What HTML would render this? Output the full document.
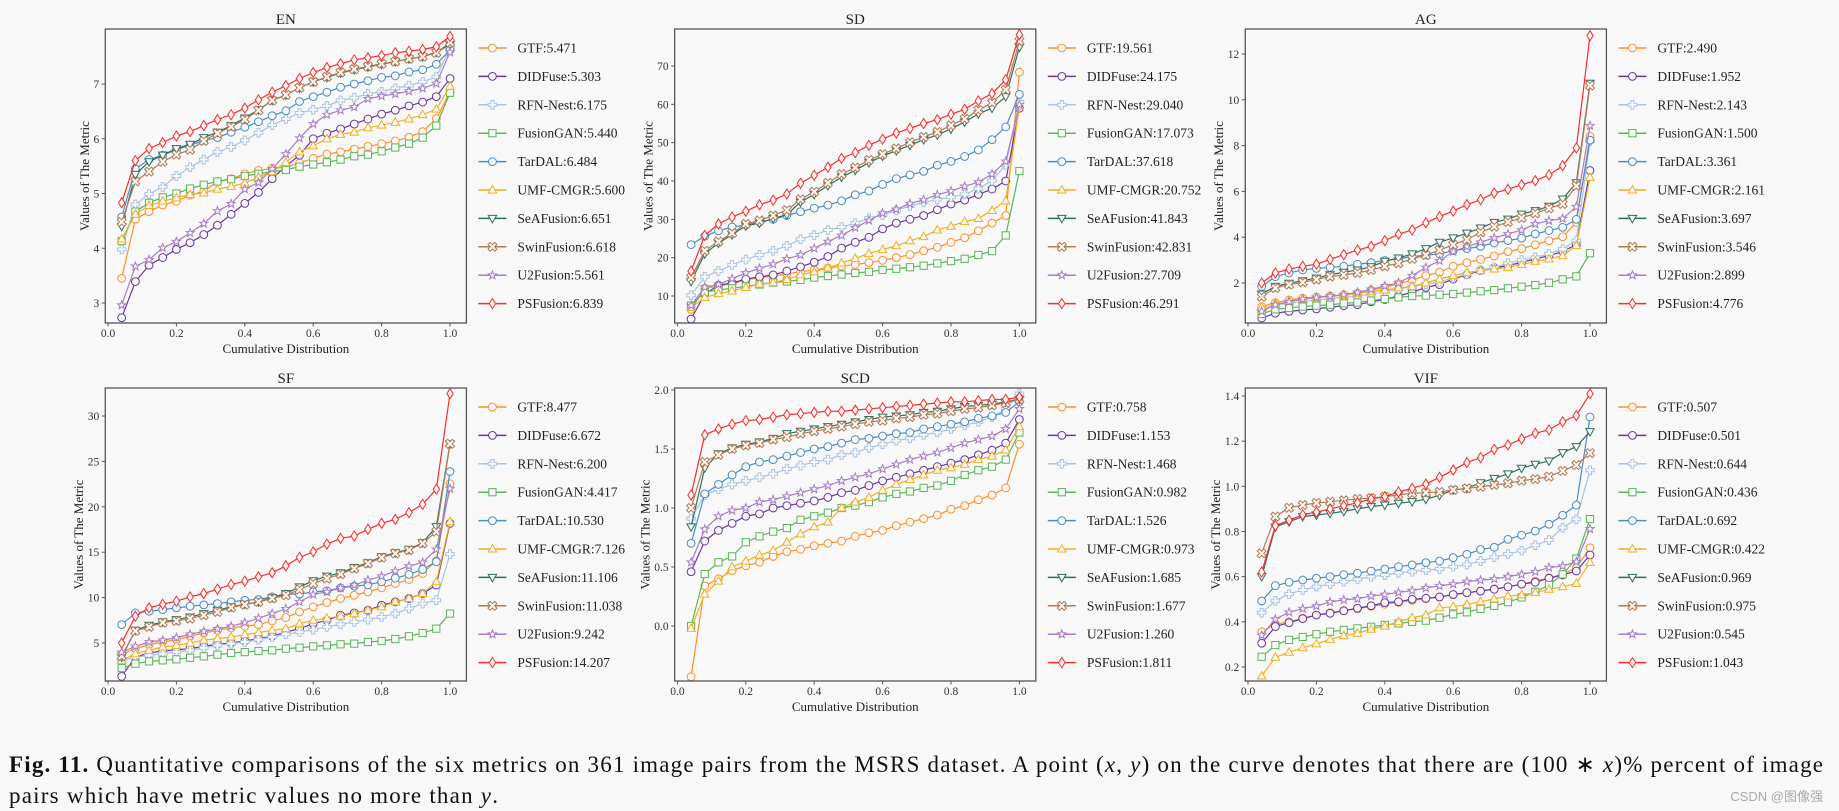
<!DOCTYPE html>
<html><head><meta charset="utf-8"><style>
html,body{margin:0;padding:0;background:#f8f8f8;}
svg{display:block;font-family:"Liberation Serif","Noto Serif CJK SC",serif;}
</style></head><body>
<svg id="fig" xmlns="http://www.w3.org/2000/svg" width="1839" height="811" viewBox="0 0 1839 811">
<rect x="0" y="0" width="1839" height="811" fill="#f8f8f8"/>
<g id="plots"></g>
<text x="9" y="772" font-size="23" fill="#111" textLength="1814" lengthAdjust="spacing"><tspan font-weight="bold">Fig. 11.</tspan> Quantitative comparisons of the six metrics on 361 image pairs from the MSRS dataset. A point (<tspan font-style="italic">x</tspan>, <tspan font-style="italic">y</tspan>) on the curve denotes that there are (100 ∗ <tspan font-style="italic">x</tspan>)% percent of image</text>
<text x="9" y="803" font-size="23" fill="#111" textLength="489" lengthAdjust="spacing">pairs which have metric values no more than <tspan font-style="italic">y</tspan>.</text>
<text x="1823" y="801" font-size="13" fill="#aaa" text-anchor="end" font-family="Liberation Sans, Noto Sans CJK SC, sans-serif">CSDN @图像强</text>
</svg>
<script>
const xValues = [0.04,0.08,0.12,0.16,0.2,0.24,0.28,0.32,0.36,0.4,0.44,0.48,0.52,0.56,0.6,0.64,0.68,0.72,0.76,0.8,0.84,0.88,0.92,0.96,1.0];
const methods = ["GTF","DIDFuse","RFN-Nest","FusionGAN","TarDAL","UMF-CMGR","SeAFusion","SwinFusion","U2Fusion","PSFusion"];
const metrics = ["EN","SD","AG","SF","SCD","VIF"];
const xTicks = [0.0,0.2,0.4,0.6,0.8,1.0];
const xTickLabels = ["0.0","0.2","0.4","0.6","0.8","1.0"];

const enLegend = ["5.471","5.303","6.175","5.440","6.484","5.600","6.651","6.618","5.561","6.839"];
const sdLegend = ["19.561","24.175","29.040","17.073","37.618","20.752","41.843","42.831","27.709","46.291"];
const agLegend = ["2.490","1.952","2.143","1.500","3.361","2.161","3.697","3.546","2.899","4.776"];
const sfLegend = ["8.477","6.672","6.200","4.417","10.530","7.126","11.106","11.038","9.242","14.207"];
const scdLegend = ["0.758","1.153","1.468","0.982","1.526","0.973","1.685","1.677","1.260","1.811"];
const vifLegend = ["0.507","0.501","0.644","0.436","0.692","0.422","0.969","0.975","0.545","1.043"];

const enTicks = [3,4,5,6,7];
const sdTicks = [10,20,30,40,50,60,70];
const agTicks = [2,4,6,8,10,12];
const sfTicks = [5,10,15,20,25,30];
const scdTicks = [0,0.5,1.0,1.5,2.0];
const vifTicks = [0.2,0.4,0.6,0.8,1.0,1.2,1.4];

const enValues = [
[3.45,4.53,4.67,4.79,4.86,4.97,5.04,5.22,5.27,5.36,5.42,5.46,5.48,5.56,5.64,5.72,5.76,5.81,5.86,5.91,5.96,6.03,6.13,6.37,6.85],
[2.73,3.39,3.69,3.83,3.98,4.10,4.25,4.42,4.62,4.82,5.02,5.27,5.50,5.70,6.00,6.10,6.18,6.27,6.36,6.45,6.52,6.60,6.67,6.77,7.10],
[3.98,4.80,4.99,5.12,5.32,5.48,5.62,5.76,5.85,5.97,6.11,6.25,6.36,6.47,6.53,6.60,6.70,6.75,6.82,6.86,6.92,6.97,7.04,7.13,7.66],
[4.13,4.67,4.83,4.93,5.00,5.09,5.16,5.22,5.26,5.32,5.36,5.40,5.43,5.49,5.53,5.57,5.62,5.68,5.71,5.77,5.84,5.91,6.02,6.24,6.84],
[4.57,5.45,5.62,5.70,5.80,5.88,5.97,6.02,6.12,6.21,6.31,6.42,6.51,6.68,6.77,6.85,6.94,7.00,7.06,7.12,7.15,7.22,7.26,7.36,7.62],
[4.17,4.62,4.78,4.86,4.92,4.98,5.01,5.08,5.13,5.19,5.30,5.40,5.57,5.76,5.87,6.00,6.08,6.12,6.20,6.25,6.30,6.36,6.44,6.54,6.96],
[4.40,5.35,5.58,5.70,5.82,5.90,6.02,6.12,6.24,6.38,6.53,6.70,6.80,6.93,7.04,7.12,7.20,7.26,7.31,7.36,7.41,7.46,7.50,7.58,7.72],
[4.48,5.22,5.40,5.58,5.71,5.80,5.96,6.10,6.22,6.35,6.52,6.70,6.80,6.93,7.04,7.13,7.21,7.27,7.32,7.37,7.41,7.46,7.50,7.57,7.76],
[2.96,3.67,3.79,4.01,4.12,4.28,4.45,4.68,4.81,5.08,5.20,5.45,5.72,6.01,6.27,6.44,6.52,6.58,6.73,6.78,6.82,6.87,6.92,7.01,7.58],
[4.83,5.60,5.82,5.93,6.05,6.13,6.24,6.35,6.44,6.56,6.71,6.85,6.97,7.10,7.21,7.30,7.37,7.44,7.48,7.52,7.57,7.60,7.63,7.68,7.87]];

const sdValues = [
[6.5,12.0,12.6,13.2,14.2,14.8,15.2,15.8,16.3,16.8,17.3,17.8,18.2,18.7,19.3,20.0,20.8,21.8,22.7,24.0,25.2,27.0,29.0,31.0,68.4],
[4.0,10.5,12.8,13.4,14.4,15.0,15.5,16.5,17.6,18.8,20.3,22.5,24.0,25.3,27.5,29.0,30.0,31.0,32.5,34.0,35.0,36.5,37.9,40.0,59.0],
[10.2,15.0,16.5,18.1,19.5,20.7,21.8,23.1,24.8,25.9,27.2,28.0,29.0,30.3,31.1,32.3,33.5,34.4,35.2,35.8,36.5,38.0,40.1,44.2,60.6],
[7.5,11.0,11.6,12.0,12.5,13.0,13.5,13.8,14.2,14.8,15.2,15.6,16.0,16.3,16.8,17.1,17.5,17.9,18.5,19.1,19.7,20.7,21.7,25.8,42.6],
[23.4,25.6,27.0,28.0,28.5,29.3,30.0,31.0,32.0,32.9,33.7,34.8,36.4,37.4,39.1,40.6,41.6,42.5,44.1,45.1,46.4,48.1,50.8,54.1,62.6],
[7.0,9.6,10.6,11.3,12.2,13.1,13.5,14.3,15.5,16.3,17.3,18.6,19.8,21.1,22.1,23.1,24.4,25.5,27.2,28.2,29.4,30.2,32.3,34.8,59.5],
[13.8,21.0,23.8,26.0,28.3,29.0,30.2,31.2,34.5,36.5,38.8,41.0,42.8,44.8,46.5,47.9,49.3,50.8,52.0,53.6,55.4,57.5,59.0,62.0,74.9],
[14.8,21.8,24.2,26.4,28.8,29.7,31.0,32.4,35.2,37.2,39.5,41.8,43.5,45.5,47.0,48.5,50.1,51.5,52.8,54.5,56.2,58.5,60.4,63.8,76.5],
[7.5,12.3,13.0,14.5,16.0,17.2,18.3,19.7,20.7,22.4,24.2,25.8,27.8,29.7,31.6,32.6,34.1,35.1,36.4,37.4,38.6,39.7,41.8,45.1,59.9],
[16.5,25.8,28.8,30.6,32.1,33.8,35.0,36.6,39.4,41.5,43.6,45.9,47.4,49.3,50.9,52.5,53.7,55.0,56.0,57.4,58.7,60.9,62.8,66.4,78.2]];

const agValues = [
[0.97,1.14,1.26,1.34,1.39,1.43,1.49,1.55,1.69,1.81,1.96,2.13,2.32,2.47,2.73,2.89,3.03,3.18,3.37,3.50,3.67,3.85,4.02,4.65,8.40],
[0.47,0.68,0.76,0.82,0.87,0.94,1.01,1.05,1.18,1.28,1.44,1.59,1.81,1.93,2.17,2.36,2.54,2.66,2.76,2.90,3.05,3.19,3.38,3.67,6.91],
[0.85,1.05,1.11,1.20,1.25,1.33,1.37,1.43,1.51,1.63,1.73,1.85,1.95,2.05,2.22,2.39,2.57,2.68,2.86,3.00,3.12,3.27,3.48,3.85,8.20],
[0.65,0.85,0.91,0.97,1.01,1.05,1.11,1.15,1.23,1.30,1.37,1.43,1.45,1.49,1.52,1.58,1.64,1.69,1.77,1.84,1.91,2.01,2.16,2.29,3.30],
[1.85,2.28,2.44,2.57,2.64,2.68,2.73,2.82,2.89,2.98,3.06,3.15,3.22,3.27,3.41,3.50,3.60,3.75,3.85,3.96,4.14,4.29,4.43,4.78,8.24],
[0.94,1.13,1.23,1.30,1.36,1.42,1.46,1.55,1.64,1.69,1.78,1.85,2.00,2.17,2.32,2.45,2.54,2.61,2.68,2.80,2.95,3.05,3.19,3.63,6.61],
[1.52,1.85,1.99,2.10,2.22,2.36,2.47,2.57,2.71,2.95,3.09,3.27,3.50,3.78,3.97,4.18,4.40,4.65,4.79,5.01,5.16,5.35,5.67,6.38,10.72],
[1.40,1.78,1.93,2.03,2.15,2.28,2.35,2.44,2.57,2.73,2.86,3.05,3.22,3.44,3.67,3.89,4.21,4.46,4.66,4.84,5.04,5.26,5.45,6.24,10.62],
[0.76,1.05,1.18,1.30,1.37,1.43,1.49,1.59,1.72,1.87,2.01,2.32,2.68,2.97,3.37,3.59,3.78,3.97,4.14,4.31,4.58,4.72,4.81,5.33,8.87],
[2.00,2.44,2.61,2.73,2.82,3.03,3.24,3.44,3.60,3.85,4.13,4.32,4.63,4.90,5.14,5.42,5.64,5.93,6.09,6.29,6.47,6.72,7.12,7.90,12.80]];

const sfValues = [
[3.75,4.38,4.82,5.11,5.37,5.74,6.10,6.40,6.66,6.84,7.02,7.43,7.80,8.42,8.98,9.46,9.90,10.26,10.63,11.07,11.55,11.99,12.66,14.06,22.53],
[1.32,3.45,3.90,4.12,4.26,4.38,4.63,4.86,5.00,5.22,5.48,5.74,6.21,6.58,7.14,7.50,8.06,8.31,8.61,9.16,9.53,9.90,10.45,11.37,18.18],
[3.09,3.45,3.64,3.82,4.00,4.19,4.48,4.74,4.93,5.11,5.37,5.66,5.96,6.21,6.47,6.77,7.06,7.32,7.58,7.87,8.24,8.79,9.34,9.71,14.79],
[2.24,2.72,2.98,3.09,3.20,3.38,3.53,3.71,3.90,4.00,4.12,4.19,4.38,4.48,4.63,4.74,4.86,4.93,5.11,5.22,5.44,5.74,6.10,6.58,8.24],
[7.02,8.31,8.50,8.68,8.87,9.05,9.20,9.34,9.53,9.71,9.79,10.08,10.38,10.38,10.63,10.74,11.07,11.26,11.41,11.74,12.14,12.55,13.10,13.95,23.89],
[3.09,3.82,4.19,4.56,4.74,5.00,5.30,5.48,5.66,5.92,6.14,6.40,6.58,7.14,7.50,7.73,7.95,8.24,8.61,8.98,9.53,9.90,10.45,11.74,18.37],
[3.45,6.40,6.95,7.32,7.58,7.87,8.24,8.61,8.98,9.27,9.53,10.00,10.45,11.18,11.85,12.36,12.73,13.32,13.84,14.50,14.94,15.31,16.05,17.81,26.94],
[3.56,6.33,6.77,7.25,7.43,7.69,8.06,8.42,8.90,9.23,9.53,9.90,10.26,10.89,11.55,12.10,12.58,13.20,13.76,14.39,14.87,15.24,15.97,17.26,26.94],
[3.97,4.63,5.11,5.30,5.59,5.96,6.29,6.55,6.84,7.25,7.73,8.24,8.76,9.53,10.34,10.63,11.07,11.37,11.92,12.36,12.92,13.47,13.87,15.31,22.00],
[5.00,7.95,8.87,9.27,9.60,10.08,10.45,10.93,11.44,11.81,12.29,12.73,13.50,14.43,15.05,15.90,16.52,16.78,17.52,18.18,18.62,19.36,20.28,21.94,32.47]];

const scdValues = [
[-0.43,0.34,0.40,0.47,0.51,0.54,0.59,0.63,0.65,0.68,0.70,0.72,0.76,0.79,0.81,0.85,0.88,0.91,0.94,0.99,1.02,1.07,1.11,1.17,1.54],
[0.46,0.72,0.81,0.87,0.93,0.95,1.00,1.02,1.04,1.06,1.09,1.13,1.15,1.19,1.23,1.26,1.29,1.32,1.35,1.38,1.41,1.45,1.49,1.55,1.75],
[0.91,1.11,1.16,1.20,1.23,1.26,1.29,1.33,1.36,1.39,1.41,1.45,1.47,1.51,1.54,1.57,1.59,1.62,1.64,1.67,1.70,1.73,1.77,1.84,1.97],
[0.00,0.44,0.54,0.59,0.71,0.76,0.80,0.83,0.90,0.93,0.96,1.00,1.02,1.05,1.09,1.12,1.14,1.17,1.19,1.23,1.28,1.32,1.35,1.41,1.64],
[0.70,1.12,1.20,1.28,1.35,1.39,1.41,1.44,1.47,1.50,1.52,1.55,1.58,1.59,1.61,1.63,1.64,1.67,1.69,1.71,1.73,1.76,1.78,1.81,1.90],
[-0.02,0.27,0.38,0.50,0.55,0.60,0.64,0.71,0.78,0.84,0.88,1.00,1.05,1.09,1.15,1.20,1.24,1.28,1.32,1.34,1.37,1.41,1.44,1.49,1.69],
[0.84,1.34,1.46,1.51,1.54,1.56,1.59,1.63,1.65,1.67,1.69,1.71,1.73,1.75,1.77,1.78,1.79,1.81,1.82,1.84,1.86,1.87,1.88,1.90,1.92],
[1.00,1.39,1.45,1.50,1.53,1.55,1.58,1.60,1.63,1.65,1.67,1.69,1.71,1.73,1.74,1.76,1.77,1.79,1.80,1.82,1.84,1.85,1.87,1.89,1.92],
[0.54,0.82,0.93,0.98,1.00,1.05,1.07,1.10,1.13,1.16,1.19,1.23,1.26,1.29,1.33,1.37,1.41,1.44,1.47,1.51,1.55,1.58,1.61,1.67,1.84],
[1.11,1.62,1.67,1.71,1.74,1.75,1.77,1.79,1.80,1.81,1.82,1.82,1.83,1.84,1.85,1.86,1.87,1.88,1.89,1.90,1.90,1.91,1.92,1.92,1.94]];

const vifValues = [
[0.356,0.39,0.40,0.416,0.43,0.44,0.45,0.458,0.468,0.478,0.486,0.495,0.502,0.51,0.52,0.528,0.537,0.546,0.555,0.567,0.58,0.595,0.61,0.64,0.728],
[0.305,0.379,0.396,0.414,0.43,0.438,0.449,0.46,0.471,0.485,0.489,0.50,0.504,0.51,0.521,0.529,0.536,0.544,0.555,0.567,0.575,0.593,0.607,0.625,0.696],
[0.44,0.493,0.523,0.541,0.556,0.567,0.578,0.588,0.60,0.607,0.617,0.622,0.629,0.634,0.644,0.654,0.669,0.686,0.70,0.715,0.739,0.762,0.817,0.854,1.071],
[0.245,0.297,0.32,0.333,0.345,0.356,0.364,0.371,0.378,0.386,0.393,0.40,0.405,0.418,0.433,0.442,0.457,0.47,0.487,0.508,0.533,0.563,0.61,0.68,0.855],
[0.492,0.56,0.575,0.585,0.593,0.60,0.609,0.615,0.625,0.634,0.644,0.652,0.662,0.669,0.684,0.699,0.72,0.73,0.765,0.784,0.802,0.832,0.872,0.917,1.307],
[0.16,0.243,0.265,0.285,0.302,0.322,0.338,0.349,0.367,0.381,0.40,0.418,0.43,0.462,0.467,0.477,0.489,0.501,0.514,0.519,0.529,0.544,0.555,0.57,0.663],
[0.60,0.82,0.843,0.866,0.873,0.88,0.889,0.90,0.91,0.917,0.925,0.932,0.943,0.96,0.984,0.991,1.016,1.035,1.055,1.08,1.098,1.112,1.149,1.176,1.242],
[0.703,0.866,0.905,0.917,0.926,0.932,0.938,0.944,0.948,0.954,0.962,0.969,0.972,0.975,0.984,0.991,0.998,1.006,1.013,1.025,1.032,1.043,1.068,1.094,1.147],
[0.34,0.412,0.442,0.458,0.47,0.488,0.497,0.502,0.514,0.521,0.53,0.538,0.55,0.559,0.567,0.578,0.584,0.59,0.60,0.61,0.622,0.64,0.647,0.666,0.811],
[0.62,0.826,0.85,0.874,0.886,0.90,0.914,0.927,0.944,0.954,0.975,0.991,1.01,1.04,1.072,1.105,1.127,1.164,1.183,1.21,1.235,1.25,1.286,1.313,1.41]];

// ---- layout (not data) ----
const colors = ["#ff8f2a","#6a35a8","#a9c4e2","#5bb55b","#4a8cc6","#f2b01e","#2e6e5c","#b47a52","#a67dc6","#ff2b2b"];
const markerTypes = ["o","o","P","s","o","^","v","X","*","d"];
const colX0 = [108, 677.4, 1248];
const xScaleK = 342;
const rowTop = [29, 388];
const rowBottom = [323, 681];
const panels = [
 {title:"EN", values:enValues, legend:enLegend, ticks:enTicks, fmt:v=>String(v), refV:7, refP:84, k:54.75, col:0,row:0, ylabOff:19},
 {title:"SD", values:sdValues, legend:sdLegend, ticks:sdTicks, fmt:v=>String(v), refV:70, refP:66, k:3.833, col:1,row:0, ylabOff:25},
 {title:"AG", values:agValues, legend:agLegend, ticks:agTicks, fmt:v=>String(v), refV:12, refP:54, k:22.9, col:2,row:0, ylabOff:25},
 {title:"SF", values:sfValues, legend:sfLegend, ticks:sfTicks, fmt:v=>String(v), refV:30, refP:416, k:9.08, col:0,row:1, ylabOff:25},
 {title:"SCD", values:scdValues, legend:scdLegend, ticks:scdTicks, fmt:v=>v.toFixed(1), refV:2.0, refP:390, k:118, col:1,row:1, ylabOff:28},
 {title:"VIF", values:vifValues, legend:vifLegend, ticks:vifTicks, fmt:v=>v.toFixed(1), refV:1.4, refP:396, k:225.8, col:2,row:1, ylabOff:28}
];
const NS = "http://www.w3.org/2000/svg";
const root = document.getElementById("plots");
function mk(tag, attrs, parent){
  const e = document.createElementNS(NS, tag);
  for (const k in attrs) e.setAttribute(k, attrs[k]);
  parent.appendChild(e);
  return e;
}
function starPts(cx,cy,ro,ri){
  let p=[];
  for(let i=0;i<10;i++){const r=i%2?ri:ro;const a=-Math.PI/2+i*Math.PI/5;p.push((cx+r*Math.cos(a)).toFixed(2)+","+(cy+r*Math.sin(a)).toFixed(2));}
  return p.join(" ");
}
function plusPts(cx,cy,h,w,rot){
  const base=[[-w,-h],[w,-h],[w,-w],[h,-w],[h,w],[w,w],[w,h],[-w,h],[-w,w],[-h,w],[-h,-w],[-w,-w]];
  const c=Math.cos(rot),s=Math.sin(rot);
  return base.map(([x,y])=>(cx+x*c-y*s).toFixed(2)+","+(cy+x*s+y*c).toFixed(2)).join(" ");
}
function drawMarker(g,type,cx,cy,color){
  const st={fill:"#f8f8f8",stroke:color,"stroke-width":1};
  let e;
  if(type==="o") e=mk("circle",Object.assign({cx:cx,cy:cy,r:3.9},st),g);
  else if(type==="s") e=mk("rect",Object.assign({x:cx-3.6,y:cy-3.6,width:7.2,height:7.2},st),g);
  else if(type==="^") e=mk("polygon",Object.assign({points:`${cx},${cy-4.4} ${cx+4.2},${cy+3} ${cx-4.2},${cy+3}`},st),g);
  else if(type==="v") e=mk("polygon",Object.assign({points:`${cx},${cy+4.4} ${cx+4.2},${cy-3} ${cx-4.2},${cy-3}`},st),g);
  else if(type==="d") e=mk("polygon",Object.assign({points:`${cx},${cy-5} ${cx+3.2},${cy} ${cx},${cy+5} ${cx-3.2},${cy}`},st),g);
  else if(type==="*") e=mk("polygon",Object.assign({points:starPts(cx,cy,4.3,1.8)},st),g);
  else if(type==="P") e=mk("polygon",Object.assign({points:plusPts(cx,cy,4.3,1.5,0)},st),g);
  else if(type==="X") e=mk("polygon",Object.assign({points:plusPts(cx,cy,4.8,1.5,Math.PI/4)},st),g);
  
  
  return e;
}
panels.forEach((p)=>{
  const x0=colX0[p.col];
  const sx=v=>x0+v*xScaleK;
  const sy=v=>p.refP+(p.refV-v)*p.k;
  const L=x0-0.008*xScaleK, R=x0+1.048*xScaleK, T=rowTop[p.row], B=rowBottom[p.row];
  const g=mk("g",{},root);
  
  
  const t=mk("text",{x:(L+R)/2,y:T-5,"text-anchor":"middle","font-size":15,fill:"#222"},g);
  t.textContent=p.title;
  
  
  const clip=mk("clipPath",{id:"clip-"+p.title},g);
  mk("rect",{x:L,y:T,width:R-L,height:B-T},clip);
  const sg=mk("g",{"clip-path":`url(#clip-${p.title})`},g);
  
  
  p.values.forEach((vals,si)=>{
    const n=Math.min(vals.length,xValues.length);
    const pts=[];
    for(let i=0;i<n;i++) pts.push(sx(xValues[i]).toFixed(2)+","+sy(vals[i]).toFixed(2));
    const line=mk("polyline",{points:pts.join(" "),fill:"none",stroke:colors[si],"stroke-width":1.2},sg);
    
    
    for(let i=0;i<n;i++) drawMarker(sg,markerTypes[si],sx(xValues[i]),sy(vals[i]),colors[si]);
  });
  const fr=mk("rect",{x:L,y:T,width:R-L,height:B-T,fill:"none",stroke:"#555","stroke-width":1.3},g);
  
  
  xTicks.forEach((v,i)=>{
    const x=sx(v);
    const tk=mk("line",{x1:x,y1:B,x2:x,y2:B+3.5,stroke:"#555","stroke-width":1},g);
    
    
    const tl=mk("text",{x:x,y:B+14,"text-anchor":"middle","font-size":11.5,fill:"#333"},g);
    tl.textContent=xTickLabels[i];
    
    
  });
  p.ticks.forEach((v)=>{
    const y=sy(v);
    const tk=mk("line",{x1:L-3.5,y1:y,x2:L,y2:y,stroke:"#555","stroke-width":1},g);
    
    
    const tl=mk("text",{x:L-6,y:y+4,"text-anchor":"end","font-size":11.5,fill:"#333"},g);
    tl.textContent=p.fmt(v);
    
    
  });
  const xl=mk("text",{x:(L+R)/2,y:B+30,"text-anchor":"middle","font-size":13,fill:"#222"},g);
  xl.textContent="Cumulative Distribution";
  
  
  const yc=(T+B)/2, yx=L-p.ylabOff;
  const yl=mk("text",{x:yx,y:yc,"text-anchor":"middle","font-size":13,fill:"#222",transform:`rotate(-90 ${yx} ${yc})`,"dominant-baseline":"middle"},g);
  yl.textContent="Values of The Metric";
  
  
  const lg=mk("g",{},g);
  
  
  const ly0=p.row===0?48:407;
  methods.forEach((m,i)=>{
    const y=ly0+28.4*i;
    const eg=mk("g",{},lg);
    
    
    mk("line",{x1:R+12,y1:y,x2:R+40,y2:y,stroke:colors[i],"stroke-width":1.5},eg);
    drawMarker(eg,markerTypes[i],R+26,y,colors[i]);
    const lt=mk("text",{x:R+51,y:y+4.5,"font-size":13.5,fill:"#222"},eg);
    lt.textContent=m+":"+p.legend[i];
    
    
  });
});
</script>
</body></html>
